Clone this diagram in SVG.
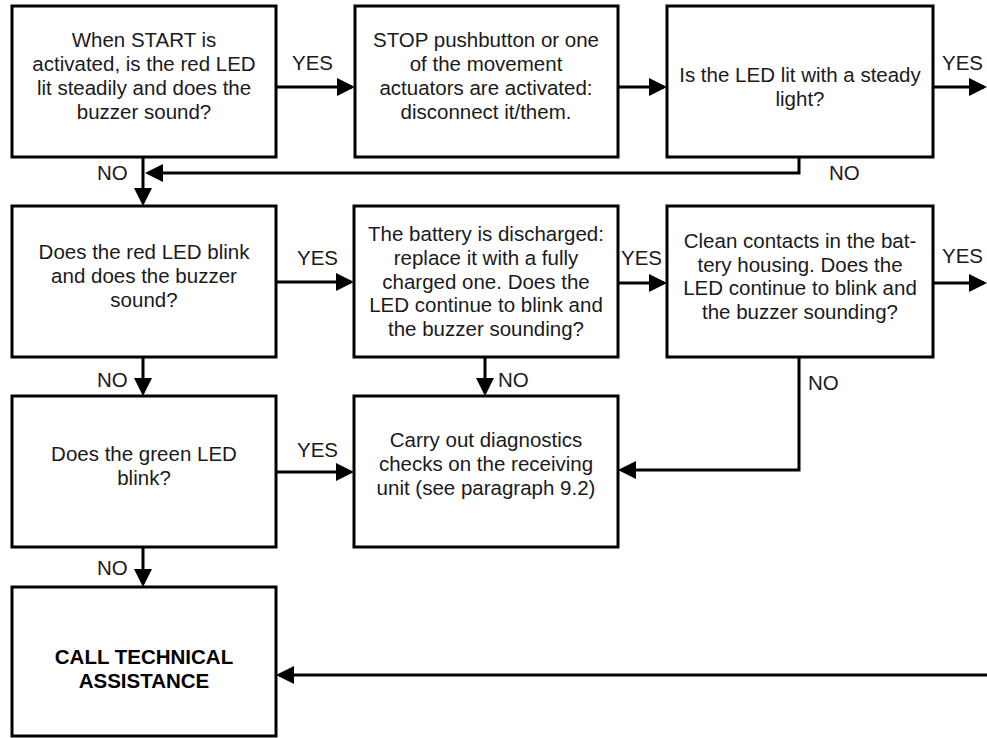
<svg xmlns="http://www.w3.org/2000/svg" width="987" height="738" viewBox="0 0 987 738">
  <style>
    .box { fill: #ffffff; stroke: #000000; stroke-width: 3; }
    .t { font-family: "Liberation Sans", Arial, sans-serif; font-size: 20.5px; fill: #1a1a1a; text-anchor: middle; }
    .b { font-weight: bold; fill: #000000; }
    .lbl { font-family: "Liberation Sans", Arial, sans-serif; font-size: 20.5px; fill: #1a1a1a; }
    .wire { fill: none; stroke: #000000; stroke-width: 3; }
  </style>
  <defs>
    <marker id="arrow" viewBox="0 0 18 18" refX="15" refY="9" markerWidth="18" markerHeight="18" markerUnits="userSpaceOnUse" orient="auto">
      <path d="M0,0 L18,9 L0,18 z" fill="#000000"/>
    </marker>
  </defs>
  <rect width="987" height="738" fill="#ffffff"/>

  <!-- connectors -->
  <g id="connectors">
    <path class="wire" d="M276,87 H352" marker-end="url(#arrow)"/>
    <path class="wire" d="M618,87 H664" marker-end="url(#arrow)"/>
    <path class="wire" d="M933,87 H984" marker-end="url(#arrow)"/>
    <path class="wire" d="M143,157 V203" marker-end="url(#arrow)"/>
    <path class="wire" d="M799,157 V173 H148" marker-end="url(#arrow)"/>
    <path class="wire" d="M276,282 H351" marker-end="url(#arrow)"/>
    <path class="wire" d="M618,283 H664" marker-end="url(#arrow)"/>
    <path class="wire" d="M933,283 H984" marker-end="url(#arrow)"/>
    <path class="wire" d="M143,357 V393" marker-end="url(#arrow)"/>
    <path class="wire" d="M485,357 V393" marker-end="url(#arrow)"/>
    <path class="wire" d="M799,357 V470 H621" marker-end="url(#arrow)"/>
    <path class="wire" d="M276,472 H351" marker-end="url(#arrow)"/>
    <path class="wire" d="M143,547 V584" marker-end="url(#arrow)"/>
    <path class="wire" d="M987,675 H279" marker-end="url(#arrow)"/>

    <text class="lbl" x="292" y="70">YES</text>
    <text class="lbl" x="942" y="70">YES</text>
    <text class="lbl" x="97" y="180">NO</text>
    <text class="lbl" x="829" y="180">NO</text>
    <text class="lbl" x="297" y="265">YES</text>
    <text class="lbl" x="621" y="265">YES</text>
    <text class="lbl" x="942" y="263">YES</text>
    <text class="lbl" x="97" y="387">NO</text>
    <text class="lbl" x="498" y="387">NO</text>
    <text class="lbl" x="808" y="390">NO</text>
    <text class="lbl" x="297" y="457">YES</text>
    <text class="lbl" x="97" y="575">NO</text>
  </g>

  <!-- row 1 -->
  <g id="start-check">
    <rect class="box" x="12" y="6" width="264" height="151"/>
    <text class="t" x="144" y="47">When START is</text>
    <text class="t" x="144" y="71">activated, is the red LED</text>
    <text class="t" x="144" y="95">lit steadily and does the</text>
    <text class="t" x="144" y="119">buzzer sound?</text>
  </g>
  <g id="stop-pushbutton">
    <rect class="box" x="355" y="6" width="263" height="151"/>
    <text class="t" x="486" y="47">STOP pushbutton or one</text>
    <text class="t" x="486" y="71">of the movement</text>
    <text class="t" x="486" y="95">actuators are activated:</text>
    <text class="t" x="486" y="119">disconnect it/them.</text>
  </g>
  <g id="steady-light">
    <rect class="box" x="667" y="6" width="266" height="151"/>
    <text class="t" x="800" y="82">Is the LED lit with a steady</text>
    <text class="t" x="800" y="106">light?</text>
  </g>

  <!-- row 2 -->
  <g id="red-blink">
    <rect class="box" x="12" y="206" width="264" height="151"/>
    <text class="t" x="144" y="259">Does the red LED blink</text>
    <text class="t" x="144" y="283">and does the buzzer</text>
    <text class="t" x="144" y="307">sound?</text>
  </g>
  <g id="battery">
    <rect class="box" x="354" y="206" width="264" height="151"/>
    <text class="t" x="486" y="241">The battery is discharged:</text>
    <text class="t" x="486" y="265">replace it with a fully</text>
    <text class="t" x="486" y="289">charged one. Does the</text>
    <text class="t" x="486" y="312">LED continue to blink and</text>
    <text class="t" x="486" y="336">the buzzer sounding?</text>
  </g>
  <g id="clean-contacts">
    <rect class="box" x="667" y="206" width="266" height="151"/>
    <text class="t" x="800" y="248">Clean contacts in the bat-</text>
    <text class="t" x="800" y="272">tery housing. Does the</text>
    <text class="t" x="800" y="295">LED continue to blink and</text>
    <text class="t" x="800" y="319">the buzzer sounding?</text>
  </g>

  <!-- row 3 -->
  <g id="green-blink">
    <rect class="box" x="12" y="396" width="264" height="151"/>
    <text class="t" x="144" y="461">Does the green LED</text>
    <text class="t" x="144" y="485">blink?</text>
  </g>
  <g id="diagnostics">
    <rect class="box" x="354" y="396" width="264" height="151"/>
    <text class="t" x="486" y="447">Carry out diagnostics</text>
    <text class="t" x="486" y="471">checks on the receiving</text>
    <text class="t" x="486" y="495">unit (see paragraph 9.2)</text>
  </g>

  <!-- row 4 -->
  <g id="technical-assistance">
    <rect class="box" x="12" y="587" width="264" height="149"/>
    <text class="t b" x="144" y="664">CALL TECHNICAL</text>
    <text class="t b" x="144" y="688">ASSISTANCE</text>
  </g>
</svg>
